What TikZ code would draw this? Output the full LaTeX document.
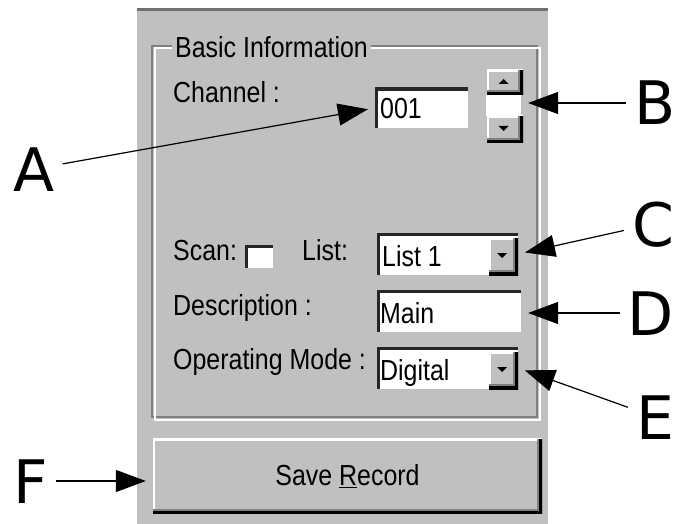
\documentclass[tikz,border=0pt]{standalone}
\usepackage{fontspec}
\usepackage{xcolor}
\usepackage{tikz}
\usetikzlibrary{arrows.meta, positioning, calc}

\newfontfamily\uifont[FakeStretch=0.86]{Liberation Sans}
\newfontfamily\callfont{DejaVu Sans}

\definecolor{uigray}{RGB}{192,192,192}
\definecolor{uidark}{RGB}{128,128,128}
\definecolor{uishade}{RGB}{112,112,112}

\begin{document}
\begin{tikzpicture}[x=1pt, y=-1pt, >=stealth]

\tikzset{
    uilabel/.style={font=\uifont\fontsize{29}{32}\selectfont, anchor=base west, inner sep=0pt},
    callout/.style={font=\callfont\fontsize{60}{60}\selectfont, text height=44pt, text depth=0pt,
                    inner sep=8pt},
    pointer/.style={-{Triangle[length=30pt, width=22pt]}, line width=1.2pt, shorten >=7pt},
    sunken/.style={rectangle, fill=white, inner sep=0pt,
                   path picture={
                     \draw[black!85, line width=6pt] (path picture bounding box.south west)
                       -- (path picture bounding box.north west) -- (path picture bounding box.north east);}},
    raised/.style={rectangle, fill=uigray, inner sep=0pt,
                   path picture={
                     \draw[white, line width=4pt] (path picture bounding box.south west)
                       -- (path picture bounding box.north west) -- (path picture bounding box.north east);
                     \draw[uidark, line width=10pt] (path picture bounding box.south west)
                       -- (path picture bounding box.south east) -- (path picture bounding box.north east);
                     \draw[black, line width=6pt] (path picture bounding box.south west)
                       -- (path picture bounding box.south east) -- (path picture bounding box.north east);}}
}

\useasboundingbox (0,0) rectangle (675,524);
\fill[white] (0,0) rectangle (675,524);

% ── 面板 ──
\fill[uigray] (137,8) rectangle (548,524);
\draw[uishade, line width=3pt] (137,9.5) -- (548,9.5);

% ── 分组框 ──
\node[draw=uidark, line width=2pt, inner sep=0pt, minimum width=385pt, minimum height=371pt] (grp)  at (344.5,231.5) {};
\node[draw=white,  line width=2pt, inner sep=0pt, minimum width=385pt, minimum height=371pt] (grpw) at (347,234) {};
\node[uilabel, fill=uigray, inner xsep=3pt] (title) at (172,58) {Basic Information};

% ── 标签 ──
\node[uilabel] (chan) at (173,103) {Channel :};
\node[uilabel] (scan) at (173,260) {Scan:};
\node[uilabel] (list) at (302,260) {List:};
\node[uilabel] (desc) at (173,315) {Description :};
\node[uilabel] (mode) at (173,369) {Operating Mode :};

% ── 频道 + 微调 ──
\node[sunken, minimum width=93pt, minimum height=40pt] (chanbox) at (421.5,108) {};
\node[uilabel] (chanval) at (380,119) {001};

\node[fill=white, inner sep=0pt, minimum width=35pt, minimum height=21pt] (spin) at (503.5,105.5) {};
\node[raised, minimum width=36pt, minimum height=25pt] (spinup) at (505,82.5) {};
\node[raised, minimum width=36pt, minimum height=27pt] (spindn) at (505,129.5) {};
\fill ([shift={(-1.5pt,1pt)}]spinup.center) +(-5pt,-2.5pt) -- +(5pt,-2.5pt) -- +(0pt,2.5pt) -- cycle;
\fill ([shift={(-1.5pt,1pt)}]spindn.center) +(-5pt,2.5pt) -- +(5pt,2.5pt) -- +(0pt,-2.5pt) -- cycle;

% ── 扫描 / 列表 ──
\node[sunken, minimum width=28pt, minimum height=23pt] (scanchk) at (259,256.5) {};
\node[sunken, minimum width=141pt, minimum height=42pt] (listbox) at (447.5,254) {};
\node[raised, minimum width=29pt, minimum height=37pt] (listbtn) at (503.5,256.5) {};
\fill ([shift={(-1.5pt,1pt)}]listbtn.center) +(-5pt,2.5pt) -- +(5pt,2.5pt) -- +(0pt,-2.5pt) -- cycle;
\node[uilabel] (listval) at (382,266) {List 1};

% ── 描述 ──
\node[sunken, minimum width=144pt, minimum height=42pt] (mainbox) at (449,311) {};
\node[uilabel] (mainval) at (380,323) {Main};

% ── 工作模式 ──
\node[sunken, minimum width=141pt, minimum height=42pt] (modebox) at (447.5,368) {};
\node[raised, minimum width=29pt, minimum height=37pt] (modebtn) at (503.5,370.5) {};
\fill ([shift={(-1.5pt,1pt)}]modebtn.center) +(-5pt,2.5pt) -- +(5pt,2.5pt) -- +(0pt,-2.5pt) -- cycle;
\node[uilabel] (modeval) at (380,380) {Digital};

% ── 保存按钮 ──
\node[raised, minimum width=389pt, minimum height=75pt, font=\uifont\fontsize{29}{32}\selectfont]
    (savebtn) at (347.5,476) {Save \underline{R}ecord};

% ── 字母标注 ──
\node[callout] (lblA) at (34,169)  {A};
\node[callout] (lblB) at (655,103) {B};
\node[callout] (lblC) at (653,224) {C};
\node[callout] (lblD) at (651,313) {D};
\node[callout] (lblE) at (655,417) {E};
\node[callout] (lblF) at (31,481)  {F};

\draw[pointer] (lblA) -- (chanbox.west);
\draw[pointer] (lblB) -- (lblB -| spin.east);
\draw[pointer] (lblC) -- (listbox.east);
\draw[pointer] (lblD) -- (lblD -| mainbox.east);
\draw[pointer] (lblE) -- (modebox.east);
\draw[pointer] (lblF) -- (lblF -| savebtn.west);

\end{tikzpicture}
\end{document}
